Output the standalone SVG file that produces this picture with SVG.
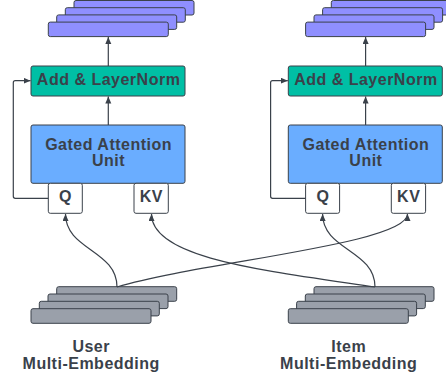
<svg xmlns="http://www.w3.org/2000/svg" width="446" height="382" viewBox="0 0 446 382">
<defs>
<marker id="arr" markerWidth="8" markerHeight="7" refX="7" refY="3" orient="auto" markerUnits="userSpaceOnUse">
<path d="M0,0 L7,3 L0,6 z" fill="#3a414a"/>
</marker>
<style>
.emb{fill:#8f8fff;stroke:#3a414a;stroke-width:1}
.add{fill:#00bfa5;stroke:#3a414a;stroke-width:1}
.gau{fill:#6aadff;stroke:#3a414a;stroke-width:1}
.port{fill:#ffffff;stroke:#3a414a;stroke-width:1}
.inp{fill:#9aa0aa;stroke:#3a414a;stroke-width:1}
.t{font-family:"Liberation Sans",Arial,sans-serif;font-weight:bold;font-size:16px;letter-spacing:0.5px;fill:#3a414a;text-anchor:middle}
.c{fill:none;stroke:#3a414a;stroke-width:1.2}
</style>
</defs>
<rect width="446" height="382" fill="#ffffff"/>

<g id="outL">
<rect class="emb" x="74" y="0.5" width="120" height="14.5" rx="2"/>
<rect class="emb" x="65.3" y="7.7" width="120" height="14.5" rx="2"/>
<rect class="emb" x="56.7" y="14.9" width="120" height="14.5" rx="2"/>
<rect class="emb" x="48.3" y="22.1" width="120" height="14.5" rx="2"/>
</g>
<g id="outR">
<rect class="emb" x="331.3" y="0.5" width="120" height="14.5" rx="2"/>
<rect class="emb" x="322.6" y="7.7" width="120" height="14.5" rx="2"/>
<rect class="emb" x="314" y="14.9" width="120" height="14.5" rx="2"/>
<rect class="emb" x="305.6" y="22.1" width="120" height="14.5" rx="2"/>
</g>

<g id="addL">
<rect class="add" x="31" y="66" width="154" height="30" rx="2"/>
<text class="t" x="108.6" y="84.8">Add &amp; LayerNorm</text>
</g>
<g id="addR">
<rect class="add" x="288.3" y="66" width="154" height="30" rx="2"/>
<text class="t" x="365.9" y="84.8">Add &amp; LayerNorm</text>
</g>

<g id="gauL">
<rect class="gau" x="31" y="125" width="154" height="58.3" rx="2"/>
<text class="t" x="108.6" y="149.5">Gated Attention</text>
<text class="t" x="108.6" y="166.3">Unit</text>
</g>
<g id="gauR">
<rect class="gau" x="288.3" y="125" width="154" height="58.3" rx="2"/>
<text class="t" x="365.9" y="149.5">Gated Attention</text>
<text class="t" x="365.9" y="166.3">Unit</text>
</g>

<g id="qL">
<rect class="port" x="48.3" y="183.3" width="34" height="30" rx="2"/>
<text class="t" x="65.6" y="202.2">Q</text>
</g>
<g id="kvL">
<rect class="port" x="134" y="183.3" width="34.3" height="30" rx="2"/>
<text class="t" x="151.4" y="202.2">KV</text>
</g>
<g id="qR">
<rect class="port" x="305.6" y="183.3" width="34" height="30" rx="2"/>
<text class="t" x="322.9" y="202.2">Q</text>
</g>
<g id="kvR">
<rect class="port" x="391.3" y="183.3" width="34.3" height="30" rx="2"/>
<text class="t" x="408.7" y="202.2">KV</text>
</g>

<g id="userEmb">
<rect class="inp" x="56.7" y="286.7" width="120" height="14.6" rx="2"/>
<rect class="inp" x="48" y="294" width="120" height="14.6" rx="2"/>
<rect class="inp" x="39.3" y="301.3" width="120" height="14.6" rx="2"/>
<rect class="inp" x="31" y="308.7" width="120" height="14.6" rx="2"/>
<text class="t" x="91.2" y="351.5">User</text>
<text class="t" x="91.2" y="369">Multi-Embedding</text>
</g>
<g id="itemEmb">
<rect class="inp" x="314" y="286.7" width="120" height="14.6" rx="2"/>
<rect class="inp" x="305.3" y="294" width="120" height="14.6" rx="2"/>
<rect class="inp" x="296.6" y="301.3" width="120" height="14.6" rx="2"/>
<rect class="inp" x="288.3" y="308.7" width="120" height="14.6" rx="2"/>
<text class="t" x="348.7" y="351.5">Item</text>
<text class="t" x="348.7" y="369">Multi-Embedding</text>
</g>

<g id="connectors">
<path class="c" d="M108.3,66 V37" marker-end="url(#arr)"/>
<path class="c" d="M108.3,125 V96.5" marker-end="url(#arr)"/>
<path class="c" d="M365.6,66 V37" marker-end="url(#arr)"/>
<path class="c" d="M365.6,125 V96.5" marker-end="url(#arr)"/>
<path class="c" d="M48.3,198.3 H15.3 Q13.3,198.3 13.3,196.3 V82.7 Q13.3,80.7 15.3,80.7 H30.5" marker-end="url(#arr)"/>
<path class="c" d="M305.6,198.3 H272.6 Q270.6,198.3 270.6,196.3 V82.7 Q270.6,80.7 272.6,80.7 H287.8" marker-end="url(#arr)"/>
<path class="c" d="M117,287 C117,250 65.5,250 65.5,214" marker-end="url(#arr)"/>
<path class="c" d="M375,287 C375,250 322.6,250 322.6,214" marker-end="url(#arr)"/>
<path class="c" d="M117,287 C200,262 407.5,244 407.5,214" marker-end="url(#arr)"/>
<path class="c" d="M375,287 C260,270 151.5,258 151.5,214" marker-end="url(#arr)"/>
</g>
</svg>
